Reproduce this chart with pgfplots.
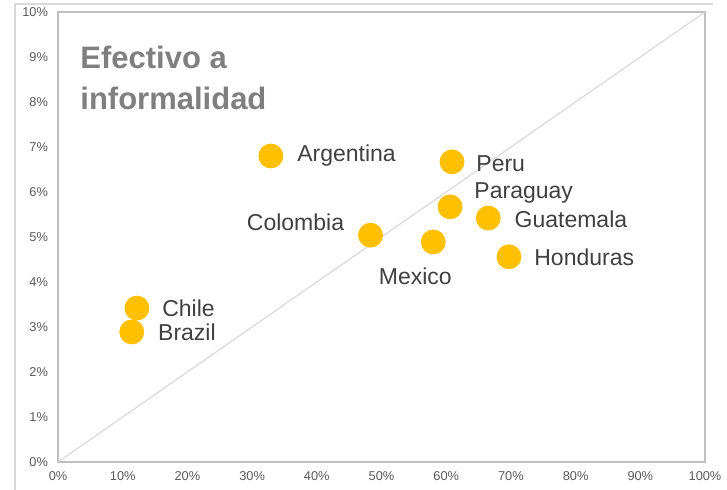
\documentclass[border=0pt]{standalone}
\usepackage{pgfplots}
\pgfplotsset{compat=1.18}
\usepackage{fontspec}
\setmainfont{Liberation Sans}
\definecolor{gold}{HTML}{FFC000}
\definecolor{framegray}{HTML}{D9D9D9}
\definecolor{axgray}{HTML}{BFBFBF}
\definecolor{titlegray}{HTML}{7F7F7F}
\definecolor{labelgray}{HTML}{404040}

% one country: #1 x, #2 y, #3 name, #4 anchor, #5 xshift, #6 yshift
\newcommand{\country}[6]{%
  \addplot[only marks, mark=*, mark size=6pt, color=gold,
    nodes near coords={#3},
    every node near coord/.append style={anchor=#4, xshift=#5, yshift=#6,
        font=\fontsize{11.5}{13}\selectfont, text=labelgray, inner sep=0pt}]
    coordinates {(#1,#2)};}

\begin{document}
\begin{tikzpicture}
\useasboundingbox (-29pt,-14pt) rectangle (334.5pt,231pt);
% outer chart frame (partially visible)
\draw[framegray, line width=0.6pt] (-21.5pt,-20pt) -- (-21.5pt,229pt) -- (327.5pt,229pt);
\begin{axis}[
    at={(0,0)}, anchor=origin,
    scale only axis,
    width=323.5pt, height=225pt,
    xmin=0, xmax=100, ymin=0, ymax=10,
    xtick={0,10,...,100}, ytick={0,1,...,10},
    xticklabel={\pgfmathprintnumber{\tick}\%},
    yticklabel={\pgfmathprintnumber{\tick}\%},
    /pgf/number format/assume math mode=true,
    tick label style={font=\fontsize{6.4}{7}\selectfont, text=black!65},
    major tick length=0pt,
    axis line style={axgray, line width=0.7pt},
    xticklabel style={yshift=-1.5pt},
    yticklabel style={xshift=-1.5pt},
    clip=false,
]
\addplot[framegray, line width=0.6pt] coordinates {(0,0) (100,10)};
\country{12.2}{3.42}{Chile}{west}{12.5pt}{0pt}
\country{11.4}{2.89}{Brazil}{west}{13pt}{0pt}
\country{32.9}{6.80}{Argentina}{west}{13pt}{0pt}
\country{48.3}{5.04}{Colombia}{east}{-13pt}{6.5pt}
\country{58.0}{4.89}{Mexico}{center}{-9pt}{-17pt}
\country{60.6}{5.67}{Paraguay}{west}{12pt}{7pt}
\country{60.9}{6.67}{Peru}{west}{12pt}{-1pt}
\country{66.5}{5.42}{Guatemala}{west}{13pt}{-0.5pt}
\country{69.7}{4.56}{Honduras}{west}{12.5pt}{0pt}
\node[anchor=north west, align=left, inner sep=0pt, text=titlegray,
      font=\bfseries\fontsize{15.5}{20.5}\selectfont]
      at ([xshift=11pt, yshift=-17pt]rel axis cs:0,1) {Efectivo a\\informalidad};
\end{axis}
\end{tikzpicture}
\end{document}
